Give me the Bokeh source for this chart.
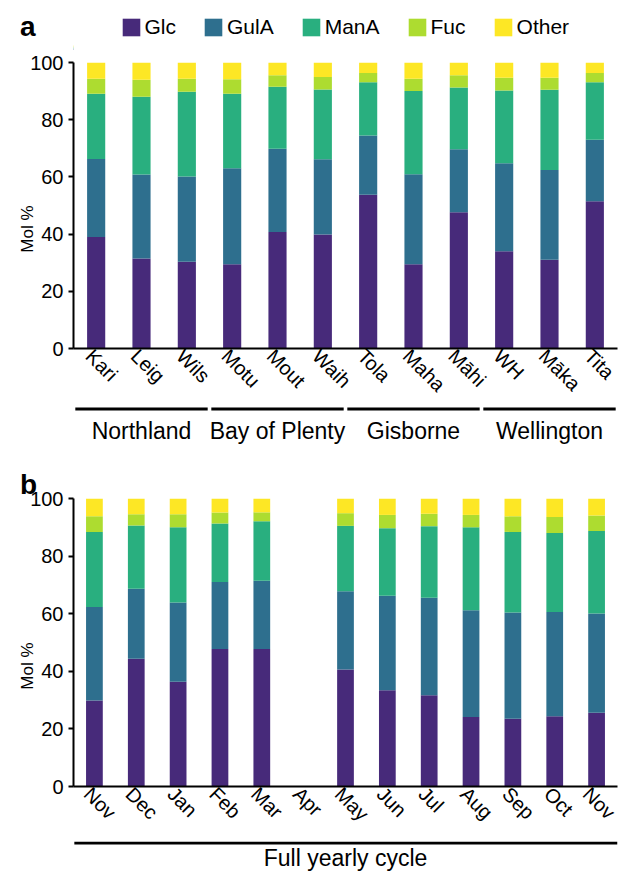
import math
import numpy as np
from bokeh.plotting import figure
from bokeh.models import ColumnDataSource, Range1d, Legend, LegendItem, FixedTicker, LinearAxis
from bokeh.core.properties import value
from bokeh.layouts import column
from bokeh.embed import file_html
from bokeh.resources import INLINE

FONT = "Liberation Sans"
components = ["Glc", "GulA", "ManA", "Fuc", "Other"]
colors = ["#472a7a", "#2e6f8e", "#29af7f", "#addc30", "#fde725"]

# ---- Panel a: sites grouped by region ----
sites = ["Kari", "Leig", "Wils", "Motu", "Mout", "Waih", "Tola", "Maha", "Māhi", "WH", "Māka", "Tita"]
regions = ["Northland", "Bay of Plenty", "Gisborne", "Wellington"]
region_sizes = [3, 3, 3, 3]
a_glc = [39.0, 31.5, 30.3, 29.5, 40.7, 39.9, 53.8, 29.5, 47.6, 34.0, 31.0, 51.5]
a_gula = [27.3, 29.3, 29.8, 33.5, 29.1, 26.3, 20.7, 31.4, 22.1, 30.8, 31.4, 21.5]
a_mana = [22.8, 27.2, 29.7, 26.1, 21.7, 24.4, 18.6, 29.1, 21.6, 25.4, 28.1, 20.1]
a_fuc = [5.2, 6.0, 4.5, 5.0, 4.0, 4.3, 3.2, 4.3, 4.2, 4.5, 4.2, 3.2]
a_other = [5.7, 6.0, 5.7, 5.9, 4.5, 5.1, 3.7, 5.7, 4.5, 5.3, 5.3, 3.7]

# ---- Panel b: full yearly cycle (no April sample) ----
nan = float("nan")
months = ["Nov", "Dec", "Jan", "Feb", "Mar", "Apr", "May", "Jun", "Jul", "Aug", "Sep", "Oct", "Nov"]
b_glc = [29.9, 44.4, 36.4, 47.7, 47.7, nan, 40.6, 33.4, 31.7, 24.1, 23.5, 24.4, 25.6]
b_gula = [32.4, 24.3, 27.5, 23.3, 23.7, nan, 27.2, 32.8, 33.8, 37.1, 36.9, 36.2, 34.5]
b_mana = [26.1, 21.9, 26.1, 20.3, 20.7, nan, 22.7, 23.5, 24.9, 28.8, 28.0, 27.4, 28.6]
b_fuc = [5.4, 3.9, 4.5, 3.8, 3.1, nan, 4.4, 4.6, 4.3, 4.3, 5.4, 5.6, 5.4]
b_other = [6.2, 5.5, 5.5, 4.9, 4.8, nan, 5.1, 5.7, 5.3, 5.7, 6.2, 6.4, 5.9]
b_group = "Full yearly cycle"

y_ticks = [0, 20, 40, 60, 80, 100]
y_title = "Mol %"

# ---- layout constants (pixels) ----
W = 619
LEFT = 73          # left border (y axis area); frames of a column are aligned
R = 2              # right border
LABEL_SHIFT = 7    # rotated tick labels sit slightly left of the bar centre
TXT = dict(text_font=value(FONT), text_color="black")


def clean(f):
    f.grid.visible = False
    f.outline_line_color = None
    f.background_fill_color = None
    f.border_fill_color = "white"
    return f


def blank(height, n):
    f = figure(width=W, height=height, x_range=Range1d(0, n), y_range=Range1d(0, height),
               x_axis_location=None, y_axis_location=None,
               output_backend="svg", toolbar_location=None,
               min_border_left=LEFT, min_border_right=R, min_border_top=0, min_border_bottom=0)
    return clean(f)


def main_fig(height, top, bottom, labels, data):
    n = len(labels)
    src = ColumnDataSource(dict(x=np.arange(n) + 0.5, **{c: np.array(v, dtype=float) for c, v in data.items()}))
    p = figure(width=W, height=height, x_range=Range1d(0, n), y_range=Range1d(0, 100),
               output_backend="svg", toolbar_location=None,
               min_border_left=LEFT, min_border_right=R, min_border_top=top, min_border_bottom=bottom)
    clean(p)
    p.vbar_stack(components, x="x", width=0.4, fill_color=colors, line_color=None, source=src)
    unit = (W - LEFT - R) / n
    ticks = [float(i + 0.5 - LABEL_SHIFT / unit) for i in range(n)]
    xax = p.xaxis[0]
    xax.ticker = FixedTicker(ticks=ticks)
    xax.major_label_overrides = {t: lab for t, lab in zip(ticks, labels)}
    xax.major_label_orientation = -math.pi / 4
    xax.major_label_standoff = 4
    xax.major_label_text_font = FONT
    xax.major_label_text_font_size = "20px"
    xax.major_label_text_color = "black"
    xax.axis_line_width = 2
    xax.axis_line_color = "black"
    xax.major_tick_line_color = None
    xax.major_tick_out = 0
    xax.major_tick_in = 0
    xax.minor_tick_line_color = None
    yax = p.yaxis[0]
    yax.ticker = FixedTicker(ticks=y_ticks)
    yax.axis_line_width = 2
    yax.axis_line_color = "black"
    yax.major_tick_out = 5
    yax.major_tick_in = 0
    yax.major_tick_line_width = 2
    yax.minor_tick_line_color = None
    yax.major_label_standoff = 5
    yax.major_label_text_font = FONT
    yax.major_label_text_font_size = "20px"
    yax.major_label_text_color = "black"
    # y title drawn as a single vertical label on an outer, line-less axis
    mid = (y_ticks[0] + y_ticks[-1]) / 2
    title_ax = LinearAxis(ticker=FixedTicker(ticks=[mid]), major_label_overrides={mid: y_title},
                          major_label_orientation=math.pi / 2, major_label_standoff=0,
                          major_label_text_font=FONT, major_label_text_font_size="17px",
                          major_label_text_color="black",
                          axis_line_color=None, major_tick_line_color=None, minor_tick_line_color=None,
                          major_tick_out=0, major_tick_in=0)
    p.add_layout(title_ax, "left")
    return p


# ================= panel a =================
n_a = len(sites)
# header: panel letter (as a lone tick label in the border) + legend
ha = figure(width=W, height=50, x_range=Range1d(0, 1), y_range=Range1d(0, 50),
            x_axis_location=None, y_axis_location="left",
            output_backend="svg", toolbar_location=None,
            min_border_left=LEFT, min_border_right=R, min_border_top=0, min_border_bottom=0)
clean(ha)
hax = ha.yaxis[0]
hax.ticker = FixedTicker(ticks=[24.5])
hax.major_label_overrides = {24.5: "a"}
hax.axis_line_color = None
hax.major_tick_line_color = None
hax.minor_tick_line_color = None
hax.major_tick_out = 0
hax.major_label_standoff = 38
hax.major_label_text_font = FONT
hax.major_label_text_font_size = "28px"
hax.major_label_text_font_style = "bold"
hax.major_label_text_color = "black"

# swatch renderers for the legend (single row placed outside the header's visible range)
leg_src = ColumnDataSource(dict(x=[-10.0], **{c: [1.0] for c in components}))
leg_rends = ha.vbar_stack(components, x="x", width=0.4, fill_color=colors, line_color=None, source=leg_src)
legend = Legend(items=[LegendItem(label=c, renderers=[r]) for c, r in zip(components, leg_rends)],
                orientation="horizontal", location=(46.5, 11),
                glyph_width=22, glyph_height=22, label_height=22,
                label_text_font=FONT, label_text_font_size="21px", label_text_color="black",
                label_standoff=3, spacing=26, padding=0, margin=0,
                border_line_color=None, background_fill_alpha=0)
ha.add_layout(legend)

ma = main_fig(356, 12, 56, sites, dict(Glc=a_glc, GulA=a_gula, ManA=a_mana, Fuc=a_fuc, Other=a_other))

# region brackets and names
ga = blank(49, n_a)
ends = np.cumsum(region_sizes)
starts = ends - np.array(region_sizes)
grp = ColumnDataSource(dict(x0=starts + 0.04, x1=ends - 0.04, xc=(starts + ends) / 2, name=regions))
ga.segment(x0="x0", x1="x1", y0=46.5, y1=46.5, source=grp, line_width=3, line_color="black")
ga.text(x="xc", y=25, text="name", source=grp, text_align="center", text_baseline="alphabetic",
        text_font_size="23px", **TXT)

# ================= panel b =================
n_b = len(months)
mb = main_fig(386, 43, 55, months, dict(Glc=b_glc, GulA=b_gula, ManA=b_mana, Fuc=b_fuc, Other=b_other))
mb.title.text = "b"
mb.title.align = "left"
mb.title.offset = -53.5
mb.title.standoff = -3
mb.title.text_font = FONT
mb.title.text_font_size = "28px"
mb.title.text_font_style = "bold"
mb.title.text_color = "black"

gb = blank(33, n_b)
gb.segment(x0=[0.02], x1=[n_b], y0=[31.5], y1=[31.5], line_width=3, line_color="black")
gb.text(x=[n_b / 2], y=[17], text=[b_group], text_align="center", text_baseline="alphabetic",
        text_font_size="23px", **TXT)

layout = column(ha, ma, ga, mb, gb)
open("out.html", "w").write(file_html(layout, INLINE))
